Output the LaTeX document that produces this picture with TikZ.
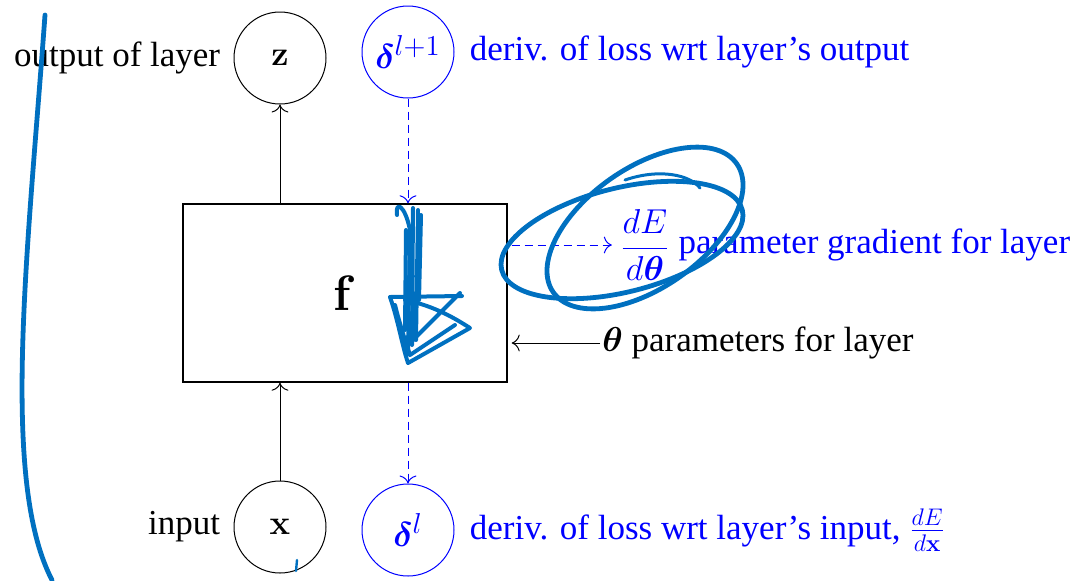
\documentclass[tikz,border=0pt]{standalone}
\usepackage{amsmath, amssymb}
\usepackage[no-math]{fontspec}
\setmainfont{Liberation Serif}
\usepackage{tikz}
\usetikzlibrary{arrows.meta, positioning, calc}
\definecolor{gradblue}{RGB}{0,0,255}
\definecolor{penblue}{RGB}{0,112,192}

\begin{document}
\begin{tikzpicture}[
  x=0.5pt, y=-0.5pt,
  font=\fontsize{17.5}{21}\selectfont,
  var/.style={draw=black, circle, line width=0.5pt, minimum size=46pt, inner sep=0pt},
  deltavar/.style={var, draw=gradblue, text=gradblue},
  layerbox/.style={draw=black, line width=0.7pt, minimum width=162pt, minimum height=89pt, inner sep=0pt},
  lbl/.style={inner sep=1pt},
  gradlbl/.style={lbl, text=gradblue},
  arrow/.style={-{To[length=4pt]}, line width=0.5pt},
  backarrow/.style={-{To[length=4pt]}, line width=0.5pt, draw=gradblue, dash pattern=on 4pt off 2.5pt},
  pen/.style={draw=penblue, line width=2.4pt, line cap=round, line join=round}
]
\useasboundingbox (0,0) rectangle (1082,580);
% variables and the layer
\node[var] (z) at (280,58) {$\mathbf{z}$};
\node[deltavar] (dout) at (408,52) {\fontsize{19}{21}\selectfont$\boldsymbol{\delta}^{l+1}$};
\node[layerbox] (f) at (345,293) {\fontsize{28}{30}\selectfont$\mathbf{f}$};
\node[var] (x) at (280,527) {$\mathbf{x}$};
\node[deltavar] (din) at (408,530) {\fontsize{19}{21}\selectfont$\boldsymbol{\delta}^{l}$};
% labels
\node[lbl, left=5.5pt of z] (zlbl) {output of layer};
\node[gradlbl, right=6.5pt of dout] (doutlbl) {deriv. of loss wrt layer's output};
\node[lbl, left=5.5pt of x] (xlbl) {input};
\node[gradlbl, right=6.5pt of din] (dinlbl) {deriv. of loss wrt layer's input, $\frac{dE}{d\mathbf{x}}$};
\node[gradlbl] (grad) at (645,245) {$\displaystyle\frac{dE}{d\boldsymbol{\theta}}$};
\node[gradlbl, right=2pt of grad] (gradlbl) {parameter gradient for layer};
\node[lbl, anchor=west] (theta) at (600,343) {$\boldsymbol{\theta}$ parameters for layer};
% forward and backward arrows
\draw[arrow] (f.north -| z) -- (z);
\draw[arrow] (x) -- (f.south -| x);
\draw[backarrow] (dout) -- (f.north -| dout);
\draw[backarrow] (f.south -| din) -- (din);
\draw[backarrow, shorten >=3pt] ([xshift=2pt]f.east |- grad) -- (grad);
\draw[arrow] (theta) -- ([xshift=2pt]f.east |- theta);
% pen annotations
\draw[pen] (45,15) .. controls (28,250) and (0,480) .. (52,580);
\draw[pen, line width=2pt] (397,215) .. controls (395,200) and (405,205) .. (410,230) -- (408,350);
\draw[pen, line width=2pt] (413,208) -- (412,345) (418,210) -- (416,340) (406,230) -- (405,330) (421,215) -- (419,300);
\draw[pen, line width=2pt] (390,297) -- (462,296) (390,297) .. controls (398,320) and (402,345) .. (408,363) -- (470,328) .. controls (450,315) and (430,305) .. (405,300) (408,345) -- (460,293) (395,305) .. controls (400,325) and (405,340) .. (410,355) -- (455,325);
\draw[pen, rotate around={14:(622,240)}] (622,240) ellipse [x radius=62pt, y radius=26pt];
\draw[pen, rotate around={35:(645,228)}] (645,228) ellipse [x radius=56pt, y radius=30pt];
\draw[pen, line width=1.5pt] (625,180) .. controls (660,168) and (690,175) .. (700,188);
\draw[pen, line width=1.2pt] (297,560) -- (296,571);
\end{tikzpicture}
\end{document}
